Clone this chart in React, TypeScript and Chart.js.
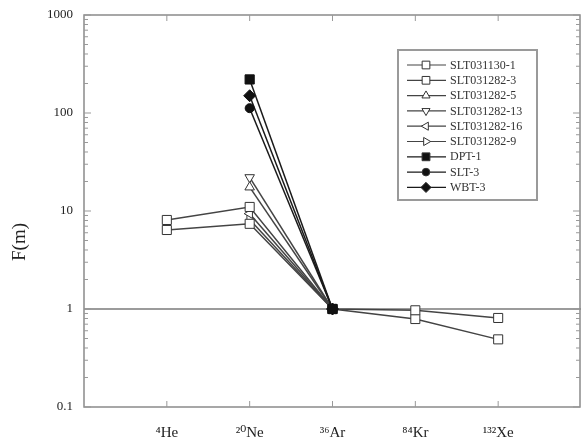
import React, { useEffect, useRef } from 'react';
import { Chart, registerables } from 'chart.js';
import * as helpers from 'chart.js/helpers';
Chart.register(...registerables);

const categories = ['', '⁴He', '²⁰Ne', '³⁶Ar', '⁸⁴Kr', '¹³²Xe', ''];
const yMajorLabels = [0.1, 1, 10, 100, 1000];
const referenceValue = 1;
const yTitle = 'F(m)';

const seriesNames = ['SLT031130-1', 'SLT031282-3', 'SLT031282-5', 'SLT031282-13', 'SLT031282-16', 'SLT031282-9', 'DPT-1', 'SLT-3', 'WBT-3'];

const slt031130_1 = [null, 6.4, 7.4, 1, 0.97, 0.81, null];
const slt031282_3 = [null, 8.1, 11, 1, 0.79, 0.49, null];
const slt031282_5 = [null, null, 17.5, 1, null, null, null];
const slt031282_13 = [null, null, 22, 1, null, null, null];
const slt031282_16 = [null, null, 9.4, 1, null, null, null];
const slt031282_9 = [null, null, 8.2, 1, null, null, null];
const dpt1 = [null, null, 220, 1, null, null, null];
const slt3 = [null, null, 112, 1, null, null, null];
const wbt3 = [null, null, 150, 1, null, null, null];

const seriesValues = [slt031130_1, slt031282_3, slt031282_5, slt031282_13, slt031282_16, slt031282_9, dpt1, slt3, wbt3];

const markerStyles = [
  { pointStyle: 'rect', rotation: 0, radius: 6.4, filled: false },
  { pointStyle: 'rect', rotation: 0, radius: 6.4, filled: false },
  { pointStyle: 'triangle', rotation: 0, radius: 5.5, filled: false },
  { pointStyle: 'triangle', rotation: 180, radius: 5.5, filled: false },
  { pointStyle: 'triangle', rotation: 270, radius: 5.5, filled: false },
  { pointStyle: 'triangle', rotation: 90, radius: 5.5, filled: false },
  { pointStyle: 'rect', rotation: 0, radius: 6.5, filled: true },
  { pointStyle: 'circle', rotation: 0, radius: 4.5, filled: true },
  { pointStyle: 'rectRot', rotation: 0, radius: 6, filled: true },
];

const FONT = "'Liberation Serif', 'DejaVu Serif', serif";

function isMajor(v: number) {
  const l = Math.log10(v);
  return Math.abs(l - Math.round(l)) < 1e-6;
}

const decorPlugin = {
  id: 'decor',
  beforeDatasetsDraw(chart: any) {
    const { ctx, chartArea: a, scales } = chart;
    const x = scales.x;
    const y = scales.y;
    ctx.save();
    const seg = (x1: number, y1: number, x2: number, y2: number) => {
      ctx.beginPath();
      ctx.moveTo(x1, y1);
      ctx.lineTo(x2, y2);
      ctx.stroke();
    };
    ctx.strokeStyle = '#7a7a7a';
    ctx.lineWidth = 1.6;
    const y1 = y.getPixelForValue(referenceValue);
    seg(a.left, y1, a.right, y1);
    ctx.strokeStyle = '#8a8a8a';
    ctx.lineWidth = 1.5;
    ctx.strokeRect(a.left, a.top, a.right - a.left - 1, a.bottom - a.top);
    ctx.lineWidth = 1;
    ctx.strokeStyle = '#999';
    y.ticks.forEach((t: any) => {
      const py = y.getPixelForValue(t.value);
      const len = isMajor(t.value) ? 7 : 4;
      seg(a.left, py, a.left + len, py);
      seg(a.right - 1, py, a.right - 1 - len, py);
    });
    for (let i = 1; i < categories.length - 1; i++) {
      const px = x.getPixelForValue(i);
      seg(px, a.bottom, px, a.bottom - 6);
      seg(px, a.top, px, a.top + 6);
    }
    ctx.save();
    ctx.translate(20, 242);
    ctx.rotate(-Math.PI / 2);
    ctx.font = `19px ${FONT}`;
    ctx.fillStyle = '#222';
    ctx.textAlign = 'center';
    ctx.textBaseline = 'middle';
    ctx.fillText(yTitle, 0, 0);
    ctx.restore();
    ctx.restore();
  },
  afterDraw(chart: any) {
    const { ctx } = chart;
    ctx.save();
    const bx = 398, by = 50, bw = 139, bh = 150;
    ctx.strokeStyle = '#9a9a9a';
    ctx.lineWidth = 2;
    ctx.strokeRect(bx, by, bw, bh);
    ctx.font = `12px ${FONT}`;
    ctx.textBaseline = 'middle';
    ctx.textAlign = 'left';
    chart.data.datasets.forEach((ds: any, i: number) => {
      const ly = by + 15 + i * 15.3;
      ctx.strokeStyle = ds.borderColor;
      ctx.lineWidth = 1.2;
      ctx.beginPath();
      ctx.moveTo(407, ly);
      ctx.lineTo(446, ly);
      ctx.stroke();
      const m = markerStyles[i];
      ctx.fillStyle = m.filled ? '#111' : '#fff';
      ctx.strokeStyle = '#333';
      ctx.lineWidth = 1;
      helpers.drawPoint(ctx, { pointStyle: m.pointStyle, rotation: m.rotation, radius: m.radius * 0.85, borderWidth: 1 }, 426, ly);
      ctx.fillStyle = '#333';
      ctx.fillText(seriesNames[i], 450, ly + 0.5);
    });
    ctx.restore();
  },
};

export default function App() {
  const ref = useRef<HTMLCanvasElement>(null);
  useEffect(() => {
    document.body.style.margin = '0';
    const datasets = seriesValues.map((vals, i) => {
      const m = markerStyles[i];
      return {
        label: seriesNames[i],
        data: vals,
        borderColor: m.filled ? '#1a1a1a' : '#444',
        borderWidth: 1.5,
        pointStyle: m.pointStyle,
        rotation: m.rotation,
        pointRadius: m.radius,
        pointBackgroundColor: m.filled ? '#111' : '#fff',
        pointBorderColor: m.filled ? '#111' : '#333',
        pointBorderWidth: 1,
        order: m.filled ? 0 : 1,
        spanGaps: false,
        tension: 0,
      };
    });
    const chart = new Chart(ref.current!, {
      type: 'line',
      data: { labels: categories, datasets },
      options: {
        responsive: false,
        animation: false,
        layout: { autoPadding: false, padding: { top: 15, right: 0, left: 0, bottom: 0 } },
        plugins: { legend: { display: false }, tooltip: { enabled: false } },
        scales: {
          x: {
            type: 'category',
            offset: false,
            grid: { display: false, drawTicks: false },
            border: { display: false },
            ticks: { autoSkip: false, maxRotation: 0, padding: 17, color: '#222', font: { family: FONT, size: 15 } },
            afterFit: (s: any) => { s.height = 34; s.paddingLeft = 0; s.paddingRight = 0; },
          },
          y: {
            type: 'logarithmic',
            min: 0.1,
            max: 1000,
            grid: { display: false, drawTicks: false },
            border: { display: false },
            afterBuildTicks: (s: any) => {
              const t: any[] = [];
              for (let e = -1; e <= 2; e++) {
                for (let m = 1; m <= 9; m++) {
                  t.push({ value: parseFloat((m * Math.pow(10, e)).toPrecision(3)) });
                }
              }
              t.push({ value: 1000 });
              s.ticks = t;
            },
            ticks: {
              autoSkip: false,
              padding: 11,
              color: '#222',
              font: { family: FONT, size: 13 },
              callback: (v: any) => (yMajorLabels.some((m) => Math.abs(m - Number(v)) < 1e-9) ? String(v) : ''),
            },
            afterFit: (s: any) => { s.width = 84; s.paddingTop = 0; s.paddingBottom = 0; },
          },
        },
      } as any,
      plugins: [decorPlugin],
    });
    return () => chart.destroy();
  }, []);
  return (
    <div style={{ position: 'relative', width: 581, height: 441 }}>
      <canvas ref={ref} width={581} height={441} style={{ display: 'block' }} />
    </div>
  );
}
